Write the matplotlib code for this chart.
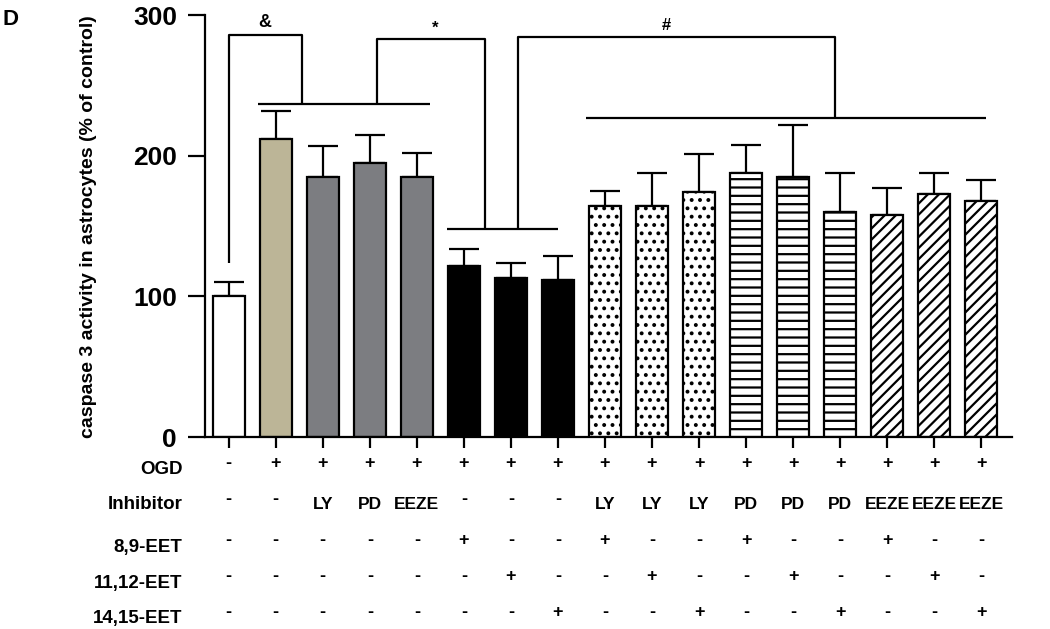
import matplotlib
matplotlib.use("Agg")
import matplotlib.pyplot as plt
import numpy as np

plt.rcParams["font.family"] = ["Liberation Sans", "DejaVu Sans"]
plt.rcParams["font.weight"] = "bold"
plt.rcParams["hatch.linewidth"] = 1.6

# bar values (% of control)
means = [100, 212, 185, 195, 185, 122, 113, 112,
         164, 164, 174, 188, 185, 160, 158, 173, 168]
errs = [10, 20, 22, 20, 17, 12, 11, 17,
        11, 24, 27, 20, 37, 28, 19, 15, 15]

colors = ["white", "#BCB597", "#7C7D81", "#7C7D81", "#7C7D81",
          "black", "black", "black"] + ["white"] * 9
hatches = [None] * 8 + [".."] * 3 + ["--"] * 3 + ["///"] * 3

# condition table under the bars
row_names = ["OGD", "Inhibitor", "8,9-EET", "11,12-EET", "14,15-EET"]
ogd = ["-"] + ["+"] * 16
inhibitor = ["-", "-", "LY", "PD", "EEZE", "-", "-", "-",
             "LY", "LY", "LY", "PD", "PD", "PD", "EEZE", "EEZE", "EEZE"]
eet89 = ["-", "-", "-", "-", "-", "+", "-", "-", "+", "-", "-", "+", "-", "-", "+", "-", "-"]
eet1112 = ["-", "-", "-", "-", "-", "-", "+", "-", "-", "+", "-", "-", "+", "-", "-", "+", "-"]
eet1415 = ["-", "-", "-", "-", "-", "-", "-", "+", "-", "-", "+", "-", "-", "+", "-", "-", "+"]
rows = [ogd, inhibitor, eet89, eet1112, eet1415]

fig = plt.figure(figsize=(10.5, 6.29), dpi=100)
ax = fig.add_axes([0.195, 0.305, 0.769, 0.671])

x = np.arange(len(means))
ax.errorbar(x, means, yerr=[np.zeros(len(errs)), errs], fmt="none",
            ecolor="black", elinewidth=1.6, capsize=11, capthick=1.6, zorder=1)
ax.bar(x, means, width=0.68, color=colors, edgecolor="black",
       linewidth=1.6, hatch=hatches, zorder=2)

ax.set_xlim(-0.51, 16.66)
ax.set_ylim(0, 300)
ax.set_yticks([0, 100, 200, 300])
ax.set_yticklabels(["0", "100", "200", "300"], fontsize=19, fontweight="bold")
ax.set_xticks(x)
ax.set_xticklabels([])
ax.tick_params(axis="y", length=12, width=1.6, pad=8)
ax.tick_params(axis="x", length=8, width=1.6)
for s in ["top", "right"]:
    ax.spines[s].set_visible(False)
for s in ["left", "bottom"]:
    ax.spines[s].set_linewidth(1.6)

ax.set_ylabel("caspase 3 activity in astrocytes (% of control)",
              fontsize=14, fontweight="bold", labelpad=26)

# significance brackets
lw = 1.6
kw = dict(color="black", lw=lw, clip_on=False, solid_capstyle="butt")
ax.plot([0.63, 4.29], [236.5, 236.5], **kw)
ax.plot([0, 0, 1.55, 1.55], [124, 286, 286, 236.5], **kw)
ax.text(0.77, 289, "&", ha="center", va="bottom", fontsize=13, fontweight="bold")

ax.plot([4.65, 7.0], [148, 148], **kw)
ax.plot([3.15, 3.15, 5.45, 5.45], [236.5, 283, 283, 148], **kw)
ax.text(4.4, 285, "*", ha="center", va="bottom", fontsize=12, fontweight="bold")

ax.plot([7.59, 16.1], [227, 227], **kw)
ax.plot([6.15, 6.15, 12.9, 12.9], [148, 284.5, 284.5, 227], **kw)
ax.text(9.3, 287, "#", ha="center", va="bottom", fontsize=12, fontweight="bold")

# table
label_y = [0.253, 0.198, 0.130, 0.072, 0.017]
sym_y = [0.263, 0.206, 0.140, 0.084, 0.027]
trans = matplotlib.transforms.blended_transform_factory(ax.transData, fig.transFigure)
for name, ly, sy, row in zip(row_names, label_y, sym_y, rows):
    fig.text(0.174, ly, name, ha="right", va="center", fontsize=13.5, fontweight="bold")
    for i, val in enumerate(row):
        if val in ("+", "-"):
            ax.text(i, sy, val, transform=trans, ha="center", va="center",
                    fontsize=13, fontweight="bold", clip_on=False)
        else:
            ax.text(i, ly, val, transform=trans, ha="center", va="center",
                    fontsize=12.5, fontweight="bold", clip_on=False)

fig.text(0.002, 0.985, "D", ha="left", va="top", fontsize=16, fontweight="bold")

fig.savefig("out.png", dpi=100)
